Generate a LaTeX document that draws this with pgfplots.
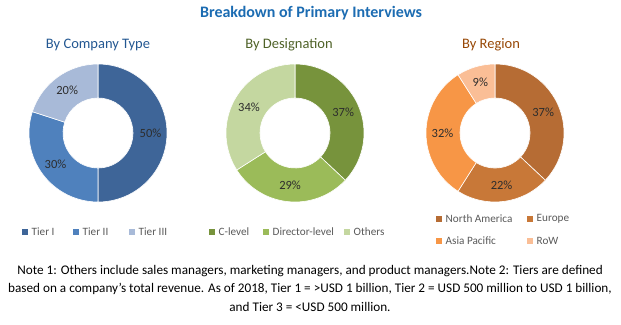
\documentclass[border=0pt]{standalone}
\usepackage{pgfplots}
\pgfplotsset{compat=1.18}
\usepackage{fontspec}
\setmainfont{Carlito}
\definecolor{tierA}{RGB}{62,101,152}
\definecolor{tierB}{RGB}{79,129,189}
\definecolor{tierC}{RGB}{168,186,216}
\definecolor{desA}{RGB}{119,147,60}
\definecolor{desB}{RGB}{155,187,89}
\definecolor{desC}{RGB}{196,215,160}
\definecolor{regA}{RGB}{182,108,52}
\definecolor{regB}{RGB}{200,120,56}
\definecolor{regC}{RGB}{247,150,70}
\definecolor{regD}{RGB}{250,190,150}
\definecolor{titleblue}{RGB}{28,108,178}
\definecolor{subA}{RGB}{36,88,146}
\definecolor{subB}{RGB}{79,98,40}
\definecolor{subC}{RGB}{151,72,6}
\definecolor{legtext}{RGB}{89,89,89}
\definecolor{lbltext}{RGB}{45,45,45}
\newcommand\lblfont{\fontsize{12.5}{14}\selectfont}
\newcommand\legfont{\fontsize{11.2}{13}\selectfont}
\def\Ro{69}
\def\Ri{35}
\def\Rm{52.5}
% #1 cx, #2 cy, #3 list value/colour
\newcommand\donut[3]{%
  \def\cum{0}%
  \pgfplotsforeachungrouped \val/\col in {#3}{%
    \pgfmathsetmacro\aS{90-3.6*\cum}%
    \pgfmathsetmacro\aE{90-3.6*(\cum+\val)}%
    \pgfmathsetmacro\aM{(\aS+\aE)/2}%
    \edef\temp{%
      \noexpand\fill[\col, draw=white, line width=0.6pt]
        ([shift={(\aS:\Ro pt)}]axis cs:#1,#2) arc[start angle=\aS, end angle=\aE, radius=\Ro pt]
        -- ([shift={(\aE:\Ri pt)}]axis cs:#1,#2) arc[start angle=\aE, end angle=\aS, radius=\Ri pt] -- cycle;
      \noexpand\node[font=\noexpand\lblfont, text=lbltext, inner sep=0pt] at ([shift={(\aM:\Rm pt)}]axis cs:#1,#2) {\val\noexpand\%};
    }%
    \temp
    \pgfmathsetmacro\cum{\cum+\val}%
  }%
}
\newcommand\legitem[4]{%
  \fill[#3] (axis cs:#1,#2-2.8) rectangle (axis cs:#1+5.6,#2+2.8);
  \node[anchor=west, inner sep=0pt, font=\legfont, text=legtext] at (axis cs:#1+9.5,#2) {#4};
}
\begin{document}
\begin{tikzpicture}
\begin{axis}[scale only axis, width=621pt, height=324pt,
  xmin=0, xmax=621, ymin=0, ymax=324, y dir=reverse,
  axis lines=none, clip=false]
\path (axis cs:0,0) rectangle (axis cs:621,324);
\node[font=\fontsize{16}{18}\selectfont\bfseries, text=titleblue] at (axis cs:311,13) {Breakdown of Primary Interviews};
\node[font=\fontsize{14.5}{16}\selectfont, text=subA] at (axis cs:98,45) {By Company Type};
\node[font=\fontsize{14.5}{16}\selectfont, text=subB] at (axis cs:289,45) {By Designation};
\node[font=\fontsize{14.5}{16}\selectfont, text=subC] at (axis cs:491,45) {By Region};
\donut{98}{133}{50/tierA,30/tierB,20/tierC}
\donut{295}{133}{37/desA,29/desB,34/desC}
\donut{495}{133}{37/regA,22/regB,32/regC,9/regD}
\legitem{22}{232}{tierA}{Tier I}
\legitem{73}{232}{tierB}{Tier II}
\legitem{129}{232}{tierC}{Tier III}
\legitem{209}{232}{desA}{C-level}
\legitem{263}{232}{desB}{Director-level}
\legitem{344}{232}{desC}{Others}
\legitem{436}{219}{regA}{North America}
\legitem{527}{219}{regB}{Europe}
\legitem{436}{241}{regC}{Asia Pacific}
\legitem{527}{241}{regD}{RoW}
\node[font=\fontsize{13.2}{15}\selectfont, text=black] at (axis cs:310,271) {Note 1: Others include sales managers, marketing managers, and product managers.Note 2: Tiers are defined};
\node[font=\fontsize{13.2}{15}\selectfont, text=black] at (axis cs:310,289) {based on a company’s total revenue. As of 2018, Tier 1 = >USD 1 billion, Tier 2 = USD 500 million to USD 1 billion,};
\node[font=\fontsize{13.2}{15}\selectfont, text=black] at (axis cs:310,307) {and Tier 3 = <USD 500 million.};
\end{axis}
\end{tikzpicture}
\end{document}
